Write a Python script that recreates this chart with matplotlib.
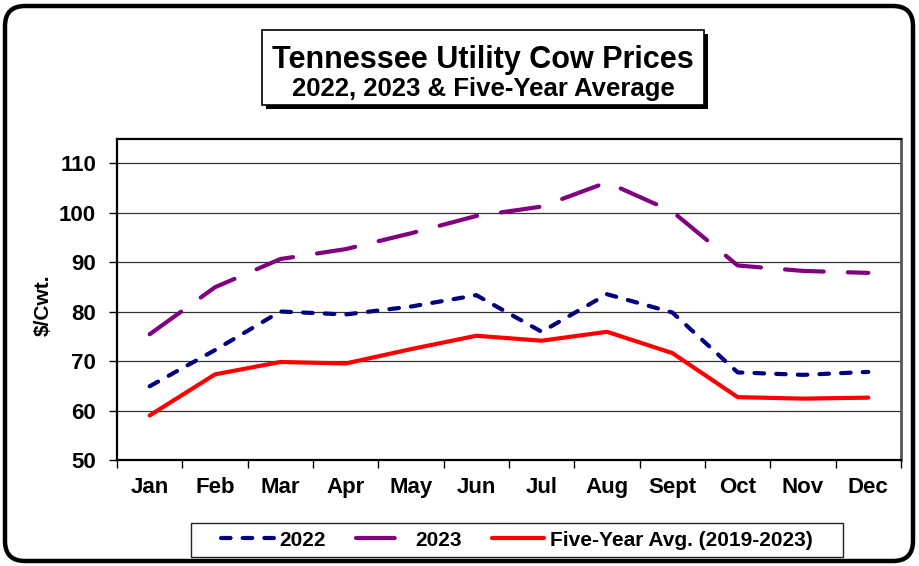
import matplotlib
matplotlib.use("Agg")
import matplotlib.pyplot as plt
from matplotlib.patches import Rectangle, FancyBboxPatch
from matplotlib.transforms import IdentityTransform

plt.rcParams['font.family'] = ['Liberation Sans', 'DejaVu Sans']
plt.rcParams['font.weight'] = 'bold'

months = ["Jan", "Feb", "Mar", "Apr", "May", "Jun", "Jul", "Aug", "Sept", "Oct", "Nov", "Dec"]
prices_2022 = [64.9, 72.2, 80.0, 79.4, 81.0, 83.3, 75.9, 83.5, 79.8, 67.7, 67.2, 67.8]
prices_2023 = [75.4, 84.9, 90.6, 92.6, 95.8, 99.3, 101.2, 106.1, 100.2, 89.3, 88.2, 87.8]
five_yr_avg = [59.0, 67.3, 69.8, 69.5, 72.4, 75.1, 74.1, 75.9, 71.6, 62.7, 62.4, 62.6]
y_ticks = [50, 60, 70, 80, 90, 100, 110]

W, H = 920, 566
fig = plt.figure(figsize=(W / 100, H / 100), dpi=100)


def px(x, y):
    # pixel (top-left origin) -> display coords
    return x, H - y


# outer rounded border
x0, y0 = px(5, 561)
fig.add_artist(FancyBboxPatch((x0, y0), 908, 555, boxstyle="round,pad=0,rounding_size=20",
                              transform=IdentityTransform(), fc="white", ec="black", lw=3.2,
                              zorder=-2))

ax = fig.add_axes([117 / W, 1 - 460 / H, (901 - 117) / W, (460 - 139) / H])
x = list(range(len(months)))

ax.plot(x, prices_2022, color="#000080", lw=3, dashes=(2.3, 2.9),
        dash_capstyle="round", solid_capstyle="round", label="2022", zorder=3)
ax.plot(x, prices_2023, color="#800080", lw=3, dashes=(9.3, 5.8),
        dash_capstyle="round", solid_capstyle="round", label="2023", zorder=3)
ax.plot(x, five_yr_avg, color="#FF0000", lw=3, solid_capstyle="round",
        label="Five-Year Avg. (2019-2023)", zorder=3)

ax.set_xlim(-0.5, 11.5)
ax.set_ylim(50, 114.85)
ax.set_yticks(y_ticks)
ax.set_yticklabels([str(v) for v in y_ticks], fontsize=16, fontweight="bold")
ax.tick_params(axis="y", length=6, width=1, pad=9)
ax.set_xticks([i - 0.5 for i in range(13)])
ax.set_xticklabels([])
ax.set_xticks(x, minor=True)
ax.set_xticklabels(months, minor=True, fontsize=16, fontweight="bold")
ax.tick_params(axis="x", which="major", length=6, width=1, direction="out")
ax.tick_params(axis="x", which="minor", length=0, pad=12)
ax.grid(axis="y", color="#333333", lw=0.9)
ax.set_axisbelow(True)

for side in ("left", "bottom", "top"):
    ax.spines[side].set_color("black")
    ax.spines[side].set_linewidth(1.6)
ax.spines["right"].set_color("#555555")
ax.spines["right"].set_linewidth(2)

ax.set_ylabel("$/Cwt.", fontsize=15, fontweight="bold")
ax.yaxis.set_label_coords((53 - 117) / 784, (460 - 305) / 321)

# title box with shadow
bx, by = px(262, 105)
fig.add_artist(Rectangle((bx + 4, by - 4), 442, 75, transform=IdentityTransform(),
                         fc="black", ec="none", zorder=1))
fig.add_artist(Rectangle((bx, by), 442, 75, transform=IdentityTransform(),
                         fc="white", ec="black", lw=1.2, zorder=2))
fig.text(483 / W, 1 - 60 / H, "Tennessee Utility Cow Prices", ha="center", va="center",
         fontsize=22, fontweight="bold", zorder=3)
fig.text(483 / W, 1 - 89 / H, "2022, 2023 & Five-Year Average", ha="center", va="center",
         fontsize=18.5, fontweight="bold", zorder=3)

# legend frame drawn separately (below the axes), legend itself frameless
lx, ly = px(191, 557)
fig.add_artist(Rectangle((lx, ly), 652, 34, transform=IdentityTransform(),
                         fc="white", ec="#222222", lw=1, zorder=-1))
leg = ax.legend(loc="center", bbox_to_anchor=(517 / W, 1 - 540 / H),
                bbox_transform=fig.transFigure, ncol=3, fontsize=15,
                frameon=False, handlelength=2.5, handletextpad=0.3,
                columnspacing=1.45, borderpad=0, borderaxespad=0)
for t in leg.get_texts():
    t.set_fontweight("bold")

fig.savefig("out.png", dpi=100)
